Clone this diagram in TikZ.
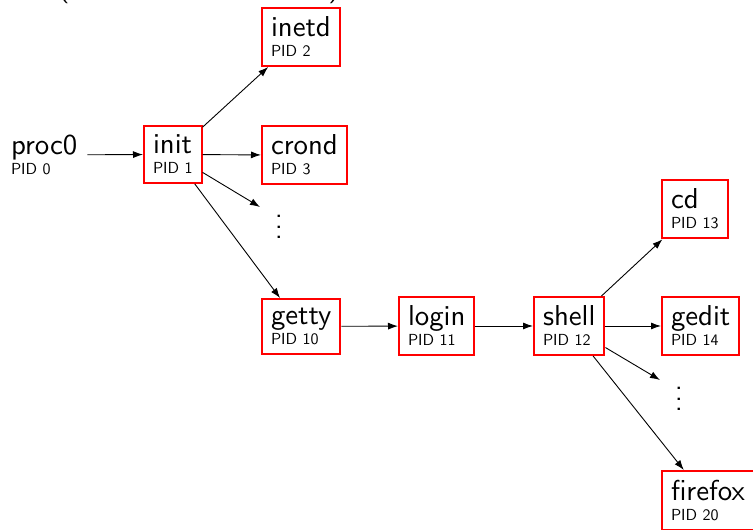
\documentclass[tikz,border=0pt]{standalone}
\usetikzlibrary{arrows.meta}
\newcommand\bigword[1]{\scalebox{2.88}{\fontsize{10}{12}\selectfont #1}}
\newcommand\smallword[1]{\scalebox{1.6}{\fontsize{10}{12}\selectfont #1}}
\newcommand\prlabel[2]{\bigword{#1}\\\smallword{#2}}
\newcommand\mydots{\vbox{\baselineskip=10.5pt\lineskiplimit=-20pt\hbox{.}\hbox{.}\hbox{.}}}
\tikzset{
  proc/.style={draw=red, line width=2pt, inner sep=9pt, align=left, anchor=north west,
    font=\sffamily\fontsize{16}{20}\selectfont},
  plainproc/.style={proc, draw=none},
  conn/.style={-{Latex[length=10pt,width=7pt]}, line width=0.9pt},
  bigtxt/.style={font=\sffamily\fontsize{28.8}{30}\selectfont, inner sep=0pt}
}
\begin{document}
\begin{tikzpicture}[x=1pt,y=-1pt]
\useasboundingbox (0,0) rectangle (753,530);
\clip (0,0) rectangle (753,530);
% cut-off parentheses at the top
\node[bigtxt, anchor=base] (lp) at (64,-3) {\bigword{(}};
\node[bigtxt, anchor=base] (rp) at (334,-3) {\bigword{)}};
% processes
\node[plainproc] (proc0) at (1,125) {\prlabel{proc0}{PID 0}};
\node[proc] (init) at (143,125) {\prlabel{init}{PID 1}};
\node[proc] (inetd) at (261,7) {\prlabel{inetd}{PID 2}};
\node[proc] (crond) at (261,125) {\prlabel{crond}{PID 3}};
\node[proc] (getty) at (261,298) {\prlabel{getty}{PID 10}};
\node[proc] (login) at (398,296) {\prlabel{login}{PID 11}};
\node[proc] (shell) at (533,296) {\prlabel{shell}{PID 12}};
\node[proc] (cd) at (661,179) {\prlabel{cd}{PID 13}};
\node[proc] (gedit) at (661,296) {\prlabel{gedit}{PID 14}};
\node[proc] (firefox) at (661,470) {\prlabel{firefox}{PID 20}};
% ellipses
\node[bigtxt, anchor=south] (dotsA) at (279,239) {\mydots};
\node[bigtxt, anchor=south] (dotsB) at (679,411) {\mydots};
\coordinate (tipA) at (260,207);
\coordinate (tipB) at (660,380);
% connectors
\draw[conn] (proc0) -- (init);
\draw[conn] (init) -- (inetd);
\draw[conn] (init) -- (crond);
\draw[conn] (init) -- (tipA);
\draw[conn] (init) -- (getty);
\draw[conn] (getty) -- (login);
\draw[conn] (login) -- (shell);
\draw[conn] (shell) -- (cd);
\draw[conn] (shell) -- (gedit);
\draw[conn] (shell) -- (tipB);
\draw[conn] (shell) -- (firefox);
\end{tikzpicture}
\end{document}
